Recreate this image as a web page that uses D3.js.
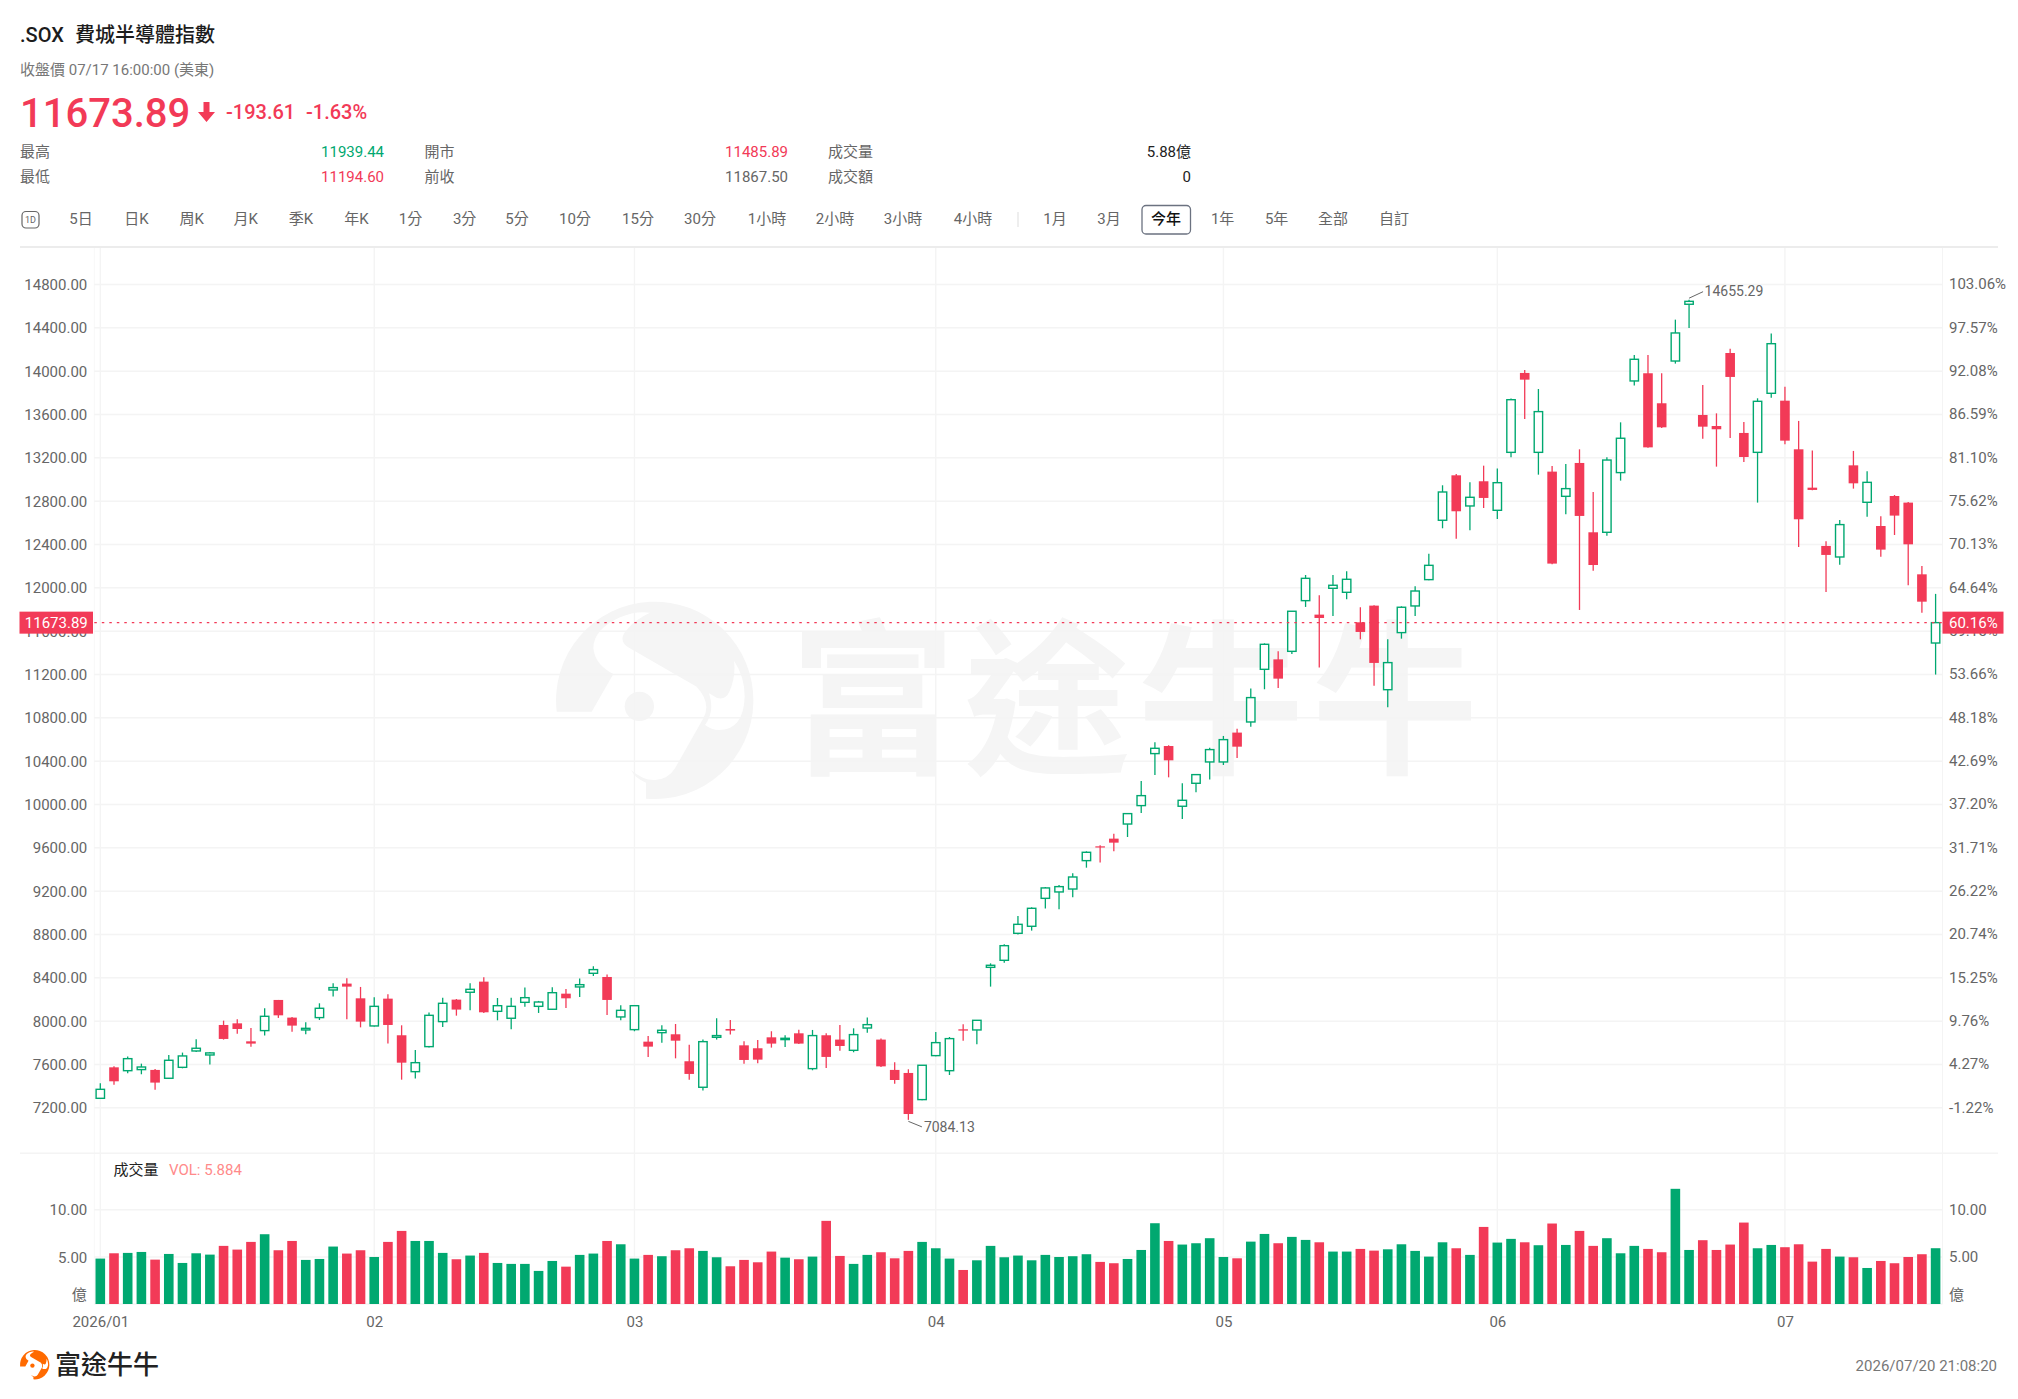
<!DOCTYPE html>
<html>
<head>
<meta charset="utf-8">
<script src="https://cdn.jsdelivr.net/npm/d3@7"></script>
<style>
  body { margin:0; background:#fff; }
  svg { display:block; }
  text { font-family:Roboto,"Noto Sans CJK TC",sans-serif; }
  .tick text { font-size:15px; fill:#666; }
</style>
</head>
<body>
<svg id="chart" width="2018" height="1399"></svg>
<script>
// candles, index 0 = first trading day of 2026
const opens = [
  7283,7569,7538,7548,7545,7468,7569,7720,7683,7960,
  7975,7809,7908,8191,8028,7914,8028,8283,8342,8206,
  7951,8203,7865,7529,7760,7991,8194,8262,8360,8086,
  8022,8169,8132,8105,8249,8311,8437,8403,8034,7917,
  7806,7889,7874,7625,7385,7846,7923,7772,7745,7846,
  7825,7883,7557,7865,7825,7726,7932,7825,7545,7517,
  7271,7677,7538,7920,7914,8492,8557,8806,8871,9129,
  9188,9215,9477,9609,9680,9815,9985,10465,10535,9979,
  10191,10388,10388,10659,10757,11243,11335,11409,11877,11748,
  11991,11954,11677,11831,11055,11582,11828,12071,12619,13034,
  12751,12979,12711,13246,13979,13246,13068,12840,13148,12508,
  12508,13059,13905,13976,13699,14089,14613,13591,13489,14163,
  13425,13246,13791,13723,13274,12920,12382,12280,13126,12785,
  12566,12843,12782,12120,11485.89]
const highs = [
  7422,7578,7668,7603,7554,7683,7705,7828,7711,8000,
  8012,7932,8114,8191,8034,7985,8160,8345,8391,8311,
  8215,8243,7957,7729,8074,8212,8200,8345,8400,8209,
  8212,8305,8182,8308,8292,8388,8502,8425,8142,8142,
  7858,7957,7969,7778,7825,8022,8006,7809,7822,7902,
  7865,7917,7914,7883,7960,7929,8028,7834,7615,7551,
  7591,7895,7849,7966,8006,8529,8705,8966,9046,9234,
  9252,9360,9563,9619,9726,9917,10212,10569,10542,10191,
  10274,10520,10628,10695,11065,11483,11409,11782,12114,11926,
  12114,12148,11816,11834,11520,11825,12009,12311,12942,13046,
  12969,13123,13096,13742,14006,13831,13120,13139,13274,12880,
  13200,13523,14145,14145,13976,14471,14655.29,13868,13606,14203,
  13526,13745,14342,13852,13536,13262,12425,12622,13259,13071,
  12655,12852,12788,12197,11939.44]
const lows = [
  7277,7409,7514,7505,7363,7462,7560,7711,7594,7825,
  7880,7760,7862,8025,7898,7874,8006,8222,8012,7938,
  7945,7788,7455,7465,7751,7942,8046,8095,8071,8003,
  7920,8129,8071,8098,8117,8218,8412,8052,8003,7902,
  7665,7797,7652,7455,7354,7825,7871,7603,7606,7751,
  7757,7785,7542,7563,7723,7708,7889,7572,7418,7084.13,
  7265,7671,7498,7815,7782,8314,8535,8794,8831,9034,
  9028,9139,9412,9459,9563,9695,9917,10268,10246,9862,
  10108,10225,10360,10425,10714,11059,11071,11385,11819,11259,
  11735,11889,11520,11092,10892,11526,11735,12065,12545,12449,
  12526,12732,12631,13200,13554,13040,12212,12674,11791,12154,
  12477,12985,13862,13289,13471,14065,14394,13372,13114,13379,
  13157,12782,13751,13320,12372,12896,11957,12209,12911,12652,
  12283,12483,12019,11766,11194.60]
const closes = [
  7366,7440,7649,7572,7428,7634,7674,7745,7702,7831,
  7923,7788,8040,8049,7954,7929,8114,8305,8314,7991,
  8132,7960,7612,7612,8049,8160,8102,8289,8077,8138,
  8132,8212,8172,8258,8206,8332,8471,8191,8095,8138,
  7760,7911,7815,7508,7806,7862,7908,7637,7640,7788,
  7837,7788,7862,7665,7766,7871,7963,7578,7452,7138,
  7588,7797,7834,7908,8003,8511,8692,8889,9037,9225,
  9237,9326,9554,9600,9643,9911,10077,10514,10403,10034,
  10271,10502,10594,10529,10982,11474,11157,11779,12083,11717,
  12019,12074,11588,11302,11305,11816,11966,12203,12880,12702,
  12831,12825,12966,13732,13917,13622,12219,12911,12659,12206,
  13175,13376,14105,13292,13477,14348,14640,13483,13459,13942,
  13203,13717,14249,13354,12628,12899,12299,12579,12960,12969,
  12348,12662,12397,11867.5,11673.89]
// volume in 億
const volumes = [
  4.79,5.35,5.39,5.49,4.68,5.28,4.33,5.35,5.21,6.13,
  5.74,6.55,7.36,5.67,6.65,4.65,4.75,6.06,5.32,5.67,
  4.96,6.55,7.71,6.65,6.65,5.39,4.72,5.11,5.39,4.33,
  4.23,4.23,3.49,4.54,3.94,5.18,5.32,6.65,6.30,4.79,
  5.18,5.04,5.67,5.88,5.60,4.93,3.98,4.65,4.40,5.53,
  4.89,4.72,5.00,8.77,5.07,4.23,5.18,5.46,4.82,5.60,
  6.55,5.88,4.79,3.59,4.61,6.13,4.93,5.11,4.61,5.18,
  4.96,5.04,5.25,4.44,4.30,4.75,5.70,8.52,6.65,6.27,
  6.41,6.94,4.96,4.82,6.58,7.39,6.41,7.08,6.76,6.51,
  5.53,5.53,5.81,5.63,5.77,6.30,5.60,5.00,6.51,5.88,
  5.18,8.13,6.48,6.87,6.51,6.20,8.49,6.23,7.71,6.13,
  6.94,5.35,6.13,5.81,5.46,12.15,5.70,6.73,5.70,6.27,
  8.59,5.88,6.23,5.99,6.30,4.47,5.81,5.00,4.93,3.80,
  4.54,4.30,4.96,5.25,5.884]

const priceTicks = [7200,7600,8000,8400,8800,9200,9600,10000,10400,10800,11200,11600,12000,12400,12800,13200,13600,14000,14400,14800]
const pctLabels = ["-1.22%","4.27%","9.76%","15.25%","20.74%","26.22%","31.71%","37.20%","42.69%","48.18%","53.66%","59.15%","64.64%","70.13%","75.62%","81.10%","86.59%","92.08%","97.57%","103.06%"]
const volTicks = [5,10]
const monthIdx = [0,20,39,61,82,102,123]
const monthLabels = ["2026/01","02","03","04","05","06","07"]
const lastPrice = 11673.89

const periods = [["5日",81],["日K",136.4],["周K",191.7],["月K",245.8],["季K",301],["年K",356.5],["1分",410.5],["3分",464.6],["5分",517],["10分",575],["15分",638],["30分",700],["1小時",767],["2小時",835],["3小時",903],["4小時",973],["1月",1055],["3月",1109],["今年",1166],["1年",1222.6],["5年",1276.6],["全部",1333],["自訂",1394]]

const RED = "#f23a57", GREEN = "#00a870", GRID = "#f4f4f4"
const left = 94.3, right = 1942.5

const svg = d3.select("#chart")

const x = d3.scaleLinear().domain([0,134]).range([100.3,1935.6])
const y = d3.scaleLinear().domain([7200,14800]).range([1107.3,284])
const yVol = d3.scaleLinear().domain([0,10]).range([1304,1209.2])

function label(txt, px, py, size, color, anchor="start", weight=400){
  return svg.append("text").attr("x",px).attr("y",py)
    .attr("dominant-baseline","central").attr("text-anchor",anchor)
    .attr("font-size",size).attr("font-weight",weight).attr("fill",color).text(txt)
}

// logo drawn in the coordinates of a 592 wide circle
function logo(cx, cy, s, color){
  const g = svg.append("g").attr("transform",`translate(${cx-344*s},${cy-331*s}) scale(${s})`).attr("fill",color)
  g.append("path").attr("fill-rule","evenodd").attr("d",
    "M50,365 A296,296 0 1 1 318,626 L318,578 Q285,565 273,540 Q310,572 345,570 Q385,568 405,535 L490,385 Q515,340 470,290 L262,170 Q235,150 258,122 Q285,88 330,68 Q285,62 240,82 Q160,118 160,175 Q165,225 220,252 L155,365 Z "+
    "M582,212 Q614,260 614,320 Q610,420 537,420 Q515,420 495,405 Q525,365 507,310 L530,323 Q555,332 568,305 Q588,260 582,212 Z")
  g.append("circle").attr("cx",298).attr("cy",349).attr("r",44)
}

// header
label(".SOX",20,35,20,"#1c1c1c","start",500)
label("費城半導體指數",75,35,20,"#1c1c1c","start",500)
label("收盤價 07/17 16:00:00 (美東)",20,69.5,15,"#777")
label("11673.89",20,113,40,RED,"start",500)
svg.append("path").attr("fill",RED).attr("d","M203.5,102 h6 v10 h5.5 l-8.5,10 l-8.5,-10 h5.5 z")
label("-193.61",226,112,20,RED,"start",500)
label("-1.63%",306,112,20,RED,"start",500)

label("最高",20,151.5,15,"#666")
label("11939.44",384,151.5,15,GREEN,"end")
label("開市",424.5,151.5,15,"#666")
label("11485.89",788,151.5,15,RED,"end")
label("成交量",828,151.5,15,"#666")
label("5.88億",1191,151.5,15,"#222","end")
label("最低",20,176.5,15,"#666")
label("11194.60",384,176.5,15,RED,"end")
label("前收",424.5,176.5,15,"#666")
label("11867.50",788,176.5,15,"#666","end")
label("成交額",828,176.5,15,"#666")
label("0",1191,176.5,15,"#222","end")

// period bar
svg.append("rect").attr("x",22).attr("y",211.5).attr("width",17).attr("height",16.5).attr("rx",4)
  .attr("fill","none").attr("stroke","#666").attr("stroke-width",1.2)
label("1D",30.5,219.5,9,"#666","middle")
periods.forEach(p => {
  const on = p[0]=="今年"
  label(p[0],p[1],219,15,on ? "#111" : "#666","middle",on ? 500 : 400)
})
svg.append("rect").attr("x",1142).attr("y",205.5).attr("width",48.5).attr("height",28.5).attr("rx",4)
  .attr("fill","none").attr("stroke","#6b7280").attr("stroke-width",1.3)
svg.append("line").attr("x1",1018).attr("x2",1018).attr("y1",212).attr("y2",227).attr("stroke","#ddd")
svg.append("line").attr("x1",20).attr("x2",1998).attr("y1",247).attr("y2",247).attr("stroke","#ececec").attr("stroke-width",2)

// watermark
logo(654.7,700.3,1/3,"#f5f5f5")
svg.append("text").attr("x",790).attr("y",761).attr("font-size",166).attr("font-weight",700)
  .attr("letter-spacing",8).attr("fill","#f5f5f5").text("富途牛牛")

// month grid
svg.append("g").selectAll("line").data(monthIdx).join("line")
  .attr("x1",d => x(d)).attr("x2",d => x(d)).attr("y1",248).attr("y2",1304)
  .attr("stroke",GRID).attr("stroke-width",1.4)
svg.append("line").attr("x1",left).attr("x2",left).attr("y1",248).attr("y2",1304).attr("stroke","#f8f8f8")
svg.append("line").attr("x1",right).attr("x2",right).attr("y1",248).attr("y2",1304).attr("stroke",GRID)
svg.append("line").attr("x1",20).attr("x2",1998).attr("y1",1153.3).attr("y2",1153.3).attr("stroke",GRID).attr("stroke-width",1.5)

// axes, the left ones also give the horizontal grid
function styleAxis(g){
  g.select(".domain").remove()
  g.selectAll(".tick line").attr("stroke",GRID).attr("stroke-width",1.5)
}
const priceAxis = svg.append("g").attr("transform",`translate(${left},0)`)
  .call(d3.axisLeft(y).tickValues(priceTicks).tickSize(left-right).tickPadding(7).tickFormat(d3.format(".2f")))
  .call(styleAxis)
priceAxis.selectAll(".tick text").attr("x",-7).attr("y",0.7)
svg.append("g").attr("transform",`translate(${right},0)`)
  .call(d3.axisRight(y).tickValues(priceTicks).tickSize(0).tickPadding(6.5).tickFormat((d,i) => pctLabels[i]))
  .call(styleAxis)
const volAxis = svg.append("g").attr("transform",`translate(${left},0)`)
  .call(d3.axisLeft(yVol).tickValues(volTicks).tickSize(left-right).tickPadding(7).tickFormat(d3.format(".2f")))
  .call(styleAxis)
volAxis.selectAll(".tick text").attr("x",-7).attr("y",0.7)
svg.append("g").attr("transform",`translate(${right},0)`)
  .call(d3.axisRight(yVol).tickValues(volTicks).tickSize(0).tickPadding(6.5).tickFormat(d3.format(".2f")))
  .call(styleAxis)
svg.append("g").attr("transform","translate(0,1304)")
  .call(d3.axisBottom(x).tickValues(monthIdx).tickSize(0).tickPadding(12).tickFormat((d,i) => monthLabels[i]))
  .call(g => g.select(".domain").attr("stroke",GRID).attr("stroke-width",1.5).attr("d",`M${left},0H${right}`))
label("億",86.7,1295,15,"#666","end")
label("億",1949,1295,15,"#666")

// candles
const idx = d3.range(opens.length)
const isUp = i => closes[i] >= opens[i]
const colorOf = i => isUp(i) ? GREEN : RED
const candles = svg.append("g")
candles.selectAll("line").data(idx).join("line")
  .attr("x1",i => x(i)).attr("x2",i => x(i))
  .attr("y1",i => y(highs[i])).attr("y2",i => y(lows[i]))
  .attr("stroke",colorOf).attr("stroke-width",1.3)
candles.selectAll("rect").data(idx).join("rect")
  .attr("x",i => x(i)-(isUp(i) ? 4.2 : 4.8))
  .attr("width",i => isUp(i) ? 8.4 : 9.6)
  .attr("y",i => y(Math.max(opens[i],closes[i])))
  .attr("height",i => Math.max(Math.abs(y(opens[i])-y(closes[i])),1.2))
  .attr("fill",i => isUp(i) ? "#fff" : RED)
  .attr("stroke",i => isUp(i) ? GREEN : "none")
  .attr("stroke-width",1.4)

// last price line and tags
svg.append("line").attr("x1",left).attr("x2",right).attr("y1",y(lastPrice)).attr("y2",y(lastPrice))
  .attr("stroke",RED).attr("stroke-width",1.2).attr("stroke-dasharray","2.5 5")
svg.append("rect").attr("x",19.5).attr("y",y(lastPrice)-11).attr("width",73.5).attr("height",22).attr("fill",RED)
label("11673.89",56.3,y(lastPrice),15,"#fff","middle")
svg.append("rect").attr("x",right).attr("y",y(lastPrice)-11).attr("width",61).attr("height",22).attr("fill",RED)
label("60.16%",1949,y(lastPrice),15,"#fff")

// high, low notes
const iHigh = highs.indexOf(d3.max(highs)), iLow = lows.indexOf(d3.min(lows))
svg.append("path").attr("fill","none").attr("stroke","#666")
  .attr("d",`M${x(iHigh)},${y(highs[iHigh])-1.5} L${x(iHigh)+14},${y(highs[iHigh])-8}`)
label(highs[iHigh].toFixed(2),x(iHigh)+15.5,y(highs[iHigh])-8.5,14,"#666")
svg.append("path").attr("fill","none").attr("stroke","#666")
  .attr("d",`M${x(iLow)},${y(lows[iLow])+1.5} L${x(iLow)+13.5},${y(lows[iLow])+7}`)
label(lows[iLow].toFixed(2),x(iLow)+15.5,y(lows[iLow])+7,14,"#666")

// volume
label("成交量",113.5,1170,15,"#222")
label("VOL: 5.884",169,1170,15,"#ff8a8a")
svg.append("g").selectAll("rect").data(idx).join("rect")
  .attr("x",i => x(i)-4.8).attr("width",9.6)
  .attr("y",i => yVol(volumes[i])).attr("height",i => yVol(0)-yVol(volumes[i]))
  .attr("fill",colorOf)

// footer
logo(34.7,1364.7,14.7/296,"#ff6a00")
label("富途牛牛",55,1365,26,"#222","start",500)
label("2026/07/20 21:08:20",1997,1366,15,"#777","end")
</script>
</body>
</html>
